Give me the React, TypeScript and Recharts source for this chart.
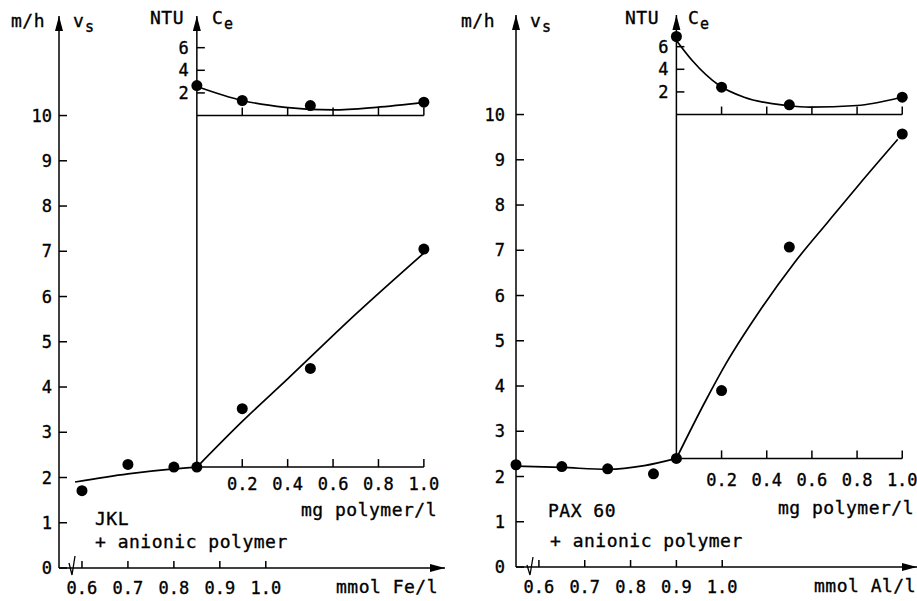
import React from 'react';
import { ComposedChart, XAxis, YAxis, Line, Scatter, ReferenceLine, ReferenceDot } from 'recharts';

const FONT = '"DejaVu Sans Mono", "Liberation Mono", monospace';

// ---- JKL + anionic polymer (left) ----
const jklDose = [0.6, 0.7, 0.8, 0.85];
const jklSettling = [1.71, 2.29, 2.23, 2.23];
const jklFitDose = [0.585, 0.7, 0.8, 0.85];
const jklFitSettling = [1.9, 2.08, 2.19, 2.23];
const jklPolymer = [0.2, 0.5, 1.0];
const jklPolymerSettling = [3.52, 4.41, 7.05];
const jklFitPolymer = [0, 0.2, 0.4, 0.7, 1.0];
const jklFitPolymerSettling = [2.23, 3.24, 4.18, 5.61, 6.96];
const jklTurbPolymer = [0, 0.2, 0.5, 1.0];
const jklTurbidity = [2.65, 1.33, 0.88, 1.18];
const jklFitTurbPolymer = [0, 0.2, 0.39, 0.6, 0.79, 1.0];
const jklFitTurbidity = [2.57, 1.33, 0.73, 0.5, 0.73, 1.17];

// ---- PAX 60 + anionic polymer (right) ----
const paxDose = [0.55, 0.65, 0.75, 0.85, 0.9];
const paxSettling = [2.26, 2.22, 2.17, 2.06, 2.4];
const paxFitDose = [0.55, 0.65, 0.75, 0.83, 0.9];
const paxFitSettling = [2.23, 2.2, 2.16, 2.24, 2.4];
const paxPolymer = [0.2, 0.5, 1.0];
const paxPolymerSettling = [3.9, 7.07, 9.57];
const paxFitPolymer = [0, 0.13, 0.22, 0.37, 0.52, 0.67, 0.81, 0.98];
const paxFitPolymerSettling = [2.4, 3.68, 4.5, 5.67, 6.71, 7.62, 8.46, 9.45];
const paxTurbPolymer = [0, 0.2, 0.5, 1.0];
const paxTurbidity = [6.9, 2.42, 0.86, 1.53];
const paxFitTurbPolymer = [0, 0.07, 0.19, 0.3, 0.49, 0.59, 0.8, 0.98];
const paxFitTurbidity = [6.55, 4.78, 2.57, 1.53, 0.8, 0.65, 0.8, 1.44];

// ticks
const doseTicks = [0.6, 0.7, 0.8, 0.9, 1.0];
const settlingTicks = [0, 1, 2, 3, 4, 5, 6, 7, 8, 9, 10];
const polymerTicks = [0.2, 0.4, 0.6, 0.8, 1.0];
const turbidityTicks = [2, 4, 6];

const VS_MAX = 12.2;
// Ce inset sits on the v_s = 10 line, 4 NTU per m/h
const CE_BASE = 10;
const CE_PER_VS = 4;

const pts = (xs: number[], ys: number[]) => xs.map((x, i) => ({ x, y: ys[i] }));

// slight stroke on the glyphs to get the heavier plotter lettering
const textInk = { fill: '#000', stroke: '#000', strokeWidth: 0.35 };
const tickStyle = { ...textInk, fontSize: 17, fontFamily: FONT };
const ink = { stroke: '#000', strokeWidth: 1.5 };

const Dot = (p: any) => <circle cx={p.cx} cy={p.cy} r={5.5} fill="#000" />;

const ArrowAxis = (p: any) => {
  const top = Math.min(p.y1, p.y2);
  const bottom = Math.max(p.y1, p.y2);
  return (
    <g>
      <line x1={p.x1} x2={p.x1} y1={top} y2={bottom} stroke="#000" strokeWidth={1.5} />
      <path d={`M${p.x1},${top} L${p.x1 - 4},${top + 15} L${p.x1 + 4},${top + 15} Z`} fill="#000" />
    </g>
  );
};

interface PanelProps {
  left: number;
  width: number;
  top: number;
  axisH: number;
  yAxisW: number;
  marginRight: number;
  doseDomain: [number, number];
  polyUnit: number;
  yTickMargin: number;
  polyLabelDy: number;
  dose: number[];
  settling: number[];
  fitDose: number[];
  fitSettling: number[];
  polymer: number[];
  polymerSettling: number[];
  fitPolymer: number[];
  fitPolymerSettling: number[];
  turbPolymer: number[];
  turbidity: number[];
  fitTurbPolymer: number[];
  fitTurbidity: number[];
}

function Panel(p: PanelProps) {
  const jDose = p.dose[p.dose.length - 1];
  const jVs = p.settling[p.settling.length - 1];
  const polyDomain: [number, number] = [
    (p.doseDomain[0] - jDose) / p.polyUnit,
    (p.doseDomain[1] - jDose) / p.polyUnit,
  ];
  const ceDomain: [number, number] = [(0 - CE_BASE) * CE_PER_VS, (VS_MAX - CE_BASE) * CE_PER_VS];

  return (
    <div style={{ position: 'absolute', left: p.left, top: 0 }}>
      <ComposedChart
        width={p.width}
        height={601}
        margin={{ top: p.top, right: p.marginRight, bottom: 0, left: 0 }}
      >
        <XAxis
          xAxisId="dose"
          type="number"
          dataKey="x"
          domain={p.doseDomain}
          ticks={doseTicks}
          interval={0}
          height={p.axisH}
          tickSize={-7}
          tickMargin={21}
          tickFormatter={(v: number) => v.toFixed(1)}
          tick={tickStyle}
          axisLine={{ ...ink, markerEnd: 'url(#arrowhead)' }}
          tickLine={ink}
        />
        <XAxis
          xAxisId="poly"
          type="number"
          dataKey="x"
          orientation="top"
          height={0}
          domain={polyDomain}
          hide
        />
        <YAxis
          yAxisId="vs"
          type="number"
          dataKey="y"
          domain={[0, VS_MAX]}
          ticks={settlingTicks}
          interval={0}
          width={p.yAxisW}
          tickSize={-8}
          tickMargin={p.yTickMargin}
          tick={tickStyle}
          axisLine={{ ...ink, markerStart: 'url(#arrowhead)' }}
          tickLine={ink}
        />
        <YAxis
          yAxisId="ce"
          type="number"
          dataKey="y"
          orientation="right"
          width={0}
          domain={ceDomain}
          hide
        />

        {/* polymer axis for v_s */}
        <ReferenceLine
          xAxisId="poly"
          yAxisId="vs"
          segment={[{ x: 0, y: jVs }, { x: 1, y: jVs }]}
          {...ink}
        />
        {polymerTicks.map((t) => (
          <ReferenceDot
            key={'pv' + t}
            xAxisId="poly"
            yAxisId="vs"
            x={t}
            y={jVs}
            shape={(s: any) => (
              <g>
                <line x1={s.cx} x2={s.cx} y1={s.cy} y2={s.cy - 8} {...ink} />
                <text x={s.cx} y={s.cy + p.polyLabelDy} textAnchor="middle" fontSize={17} fontFamily={FONT} {...textInk}>
                  {t.toFixed(1)}
                </text>
              </g>
            )}
          />
        ))}

        {/* Ce inset axes */}
        <ReferenceLine
          xAxisId="dose"
          yAxisId="vs"
          segment={[{ x: jDose, y: jVs }, { x: jDose, y: VS_MAX }]}
          shape={ArrowAxis}
        />
        <ReferenceLine
          xAxisId="poly"
          yAxisId="ce"
          segment={[{ x: 0, y: 0 }, { x: 1, y: 0 }]}
          {...ink}
        />
        {polymerTicks.map((t) => (
          <ReferenceDot
            key={'pc' + t}
            xAxisId="poly"
            yAxisId="ce"
            x={t}
            y={0}
            shape={(s: any) => <line x1={s.cx} x2={s.cx} y1={s.cy} y2={s.cy - 8} {...ink} />}
          />
        ))}
        {turbidityTicks.map((t) => (
          <ReferenceDot
            key={'ce' + t}
            xAxisId="dose"
            yAxisId="ce"
            x={jDose}
            y={t}
            shape={(s: any) => (
              <g>
                <line x1={s.cx} x2={s.cx + 8} y1={s.cy} y2={s.cy} {...ink} />
                <text x={s.cx - 8} y={s.cy + 6} textAnchor="end" fontSize={17} fontFamily={FONT} {...textInk}>
                  {t}
                </text>
              </g>
            )}
          />
        ))}

        {/* fitted curves */}
        <Line
          xAxisId="dose"
          yAxisId="vs"
          data={pts(p.fitDose, p.fitSettling)}
          dataKey="y"
          type="monotone"
          stroke="#000"
          strokeWidth={1.7}
          dot={false}
          isAnimationActive={false}
        />
        <Line
          xAxisId="poly"
          yAxisId="vs"
          data={pts(p.fitPolymer, p.fitPolymerSettling)}
          dataKey="y"
          type="monotone"
          stroke="#000"
          strokeWidth={1.7}
          dot={false}
          isAnimationActive={false}
        />
        <Line
          xAxisId="poly"
          yAxisId="ce"
          data={pts(p.fitTurbPolymer, p.fitTurbidity)}
          dataKey="y"
          type="monotone"
          stroke="#000"
          strokeWidth={1.7}
          dot={false}
          isAnimationActive={false}
        />

        {/* measured points */}
        <Scatter xAxisId="dose" yAxisId="vs" data={pts(p.dose, p.settling)} shape={Dot} isAnimationActive={false} />
        <Scatter xAxisId="poly" yAxisId="vs" data={pts(p.polymer, p.polymerSettling)} shape={Dot} isAnimationActive={false} />
        <Scatter xAxisId="poly" yAxisId="ce" data={pts(p.turbPolymer, p.turbidity)} shape={Dot} isAnimationActive={false} />
      </ComposedChart>
    </div>
  );
}

const T = (props: any) => (
  <text fontFamily={FONT} fontSize={18} letterSpacing={0.5} {...textInk} {...props} />
);

export default function App() {
  return (
    <div style={{ position: 'absolute', left: 0, top: 0, width: 917, height: 601, background: '#fff' }}>
      <svg width={0} height={0} style={{ position: 'absolute' }}>
        <defs>
          <marker
            id="arrowhead"
            viewBox="0 0 15 8"
            refX={15}
            refY={4}
            markerWidth={15}
            markerHeight={8}
            markerUnits="userSpaceOnUse"
            orient="auto-start-reverse"
          >
            <path d="M0,0 L15,4 L0,8 Z" fill="#000" />
          </marker>
        </defs>
      </svg>

      <Panel
        left={0}
        width={458}
        top={16}
        axisH={33}
        yAxisW={59}
        marginRight={13}
        doseDomain={[0.55, 1.39]}
        polyUnit={0.494}
        yTickMargin={15}
        polyLabelDy={23}
        dose={jklDose}
        settling={jklSettling}
        fitDose={jklFitDose}
        fitSettling={jklFitSettling}
        polymer={jklPolymer}
        polymerSettling={jklPolymerSettling}
        fitPolymer={jklFitPolymer}
        fitPolymerSettling={jklFitPolymerSettling}
        turbPolymer={jklTurbPolymer}
        turbidity={jklTurbidity}
        fitTurbPolymer={jklFitTurbPolymer}
        fitTurbidity={jklFitTurbidity}
      />
      <Panel
        left={458}
        width={459}
        top={15}
        axisH={34}
        yAxisW={58}
        marginRight={0}
        doseDomain={[0.55, 1.425]}
        polyUnit={0.4928}
        yTickMargin={19}
        polyLabelDy={28}
        dose={paxDose}
        settling={paxSettling}
        fitDose={paxFitDose}
        fitSettling={paxFitSettling}
        polymer={paxPolymer}
        polymerSettling={paxPolymerSettling}
        fitPolymer={paxFitPolymer}
        fitPolymerSettling={paxFitPolymerSettling}
        turbPolymer={paxTurbPolymer}
        turbidity={paxTurbidity}
        fitTurbPolymer={paxFitTurbPolymer}
        fitTurbidity={paxFitTurbidity}
      />

      {/* titles and annotations */}
      <svg width={917} height={601} style={{ position: 'absolute', left: 0, top: 0, pointerEvents: 'none' }}>
        <T x={11} y={27}>m/h</T>
        <T x={73} y={27}>v</T>
        <T x={85} y={32} fontSize={15}>s</T>
        <T x={150} y={24}>NTU</T>
        <T x={212} y={24}>C</T>
        <T x={224} y={29} fontSize={15}>e</T>
        <T x={437} y={516} textAnchor="end">mg polymer/l</T>
        <T x={95} y={525}>JKL</T>
        <T x={95} y={548}>+ anionic polymer</T>
        <T x={438} y={593} textAnchor="end">mmol Fe/l</T>
        <path d="M69,563 L72,575 L75,556" fill="none" stroke="#000" strokeWidth={1.3} />

        <T x={461} y={27}>m/h</T>
        <T x={530} y={27}>v</T>
        <T x={542} y={32} fontSize={15}>s</T>
        <T x={625} y={24}>NTU</T>
        <T x={688} y={24}>C</T>
        <T x={700} y={29} fontSize={15}>e</T>
        <T x={914} y={514} textAnchor="end">mg polymer/l</T>
        <T x={548} y={517}>PAX 60</T>
        <T x={550} y={547}>+ anionic polymer</T>
        <T x={916} y={592} textAnchor="end">mmol Al/l</T>
        <path d="M527,565 L530,575 L533,557" fill="none" stroke="#000" strokeWidth={1.3} />
      </svg>
    </div>
  );
}
